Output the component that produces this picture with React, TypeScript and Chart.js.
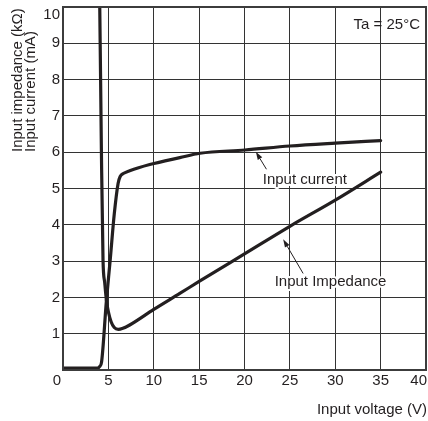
import React, { useEffect, useRef } from "react";
import { Chart, registerables } from "chart.js";

Chart.register(...registerables);

// ---- data ----
const X_TICKS = [0, 5, 10, 15, 20, 25, 30, 35, 40];
const Y_TICKS = [1, 2, 3, 4, 5, 6, 7, 8, 9, 10];

const currentX = [0, 3.8, 4.05, 4.25, 4.78, 5.2, 5.65, 6.07, 6.3, 6.7, 7.35, 9.56, 12.87, 15.1, 20.05, 25, 30, 35];
const currentY = [0.05, 0.05, 0.1, 0.22, 1.9, 3.03, 4.3, 5.14, 5.33, 5.42, 5.49, 5.66, 5.85, 5.97, 6.06, 6.17, 6.25, 6.32];

const impedanceX = [4.0, 4.05, 4.23, 4.41, 4.6, 4.78, 5.0, 5.3, 5.65, 6.1, 6.6, 7.35, 10, 12.87, 15, 20, 25, 30, 35];
const impedanceY = [10.6, 10, 6.06, 3.03, 2.4, 1.93, 1.6, 1.33, 1.17, 1.12, 1.15, 1.24, 1.67, 2.11, 2.44, 3.2, 3.96, 4.68, 5.45];

const annotationTexts = ["Input current", "Input Impedance"];
const annotationLabelX = [26.65, 29.48];
const annotationLabelY = [5.25, 2.43];
const arrowTailX = [22.42, 26.46];
const arrowTailY = [5.53, 2.66];
const arrowTipX = [21.25, 24.26];
const arrowTipY = [6.01, 3.6];

const noteText = "Ta = 25°C";
const xTitle = "Input voltage (V)";
const yTitleLines = ["Input impedance (kΩ)", "Input current (mA)"];

// ---- styles ----
const INK = "#231f20";
const GRID = "#333333";
const FRAME = "#3c3c3c";
const FONT = '15px "Liberation Sans", Arial, sans-serif';

const textPlugin = {
  id: "texts",
  afterDraw(chart: any) {
    const { ctx, chartArea: a } = chart;
    const x = chart.scales.x;
    const y = chart.scales.y;
    ctx.save();

    // frame
    ctx.strokeStyle = FRAME;
    ctx.lineWidth = 2;
    ctx.strokeRect(a.left, a.top, a.right - a.left, a.bottom - a.top);

    ctx.fillStyle = INK;
    ctx.font = FONT;

    // y tick labels
    ctx.textAlign = "right";
    ctx.textBaseline = "middle";
    Y_TICKS.forEach((v) => {
      const py = Math.max(y.getPixelForValue(v), a.top + 8);
      ctx.fillText(String(v), a.left - 3, py);
    });

    // x tick labels
    X_TICKS.forEach((v, i) => {
      const px = x.getPixelForValue(v);
      const py = a.bottom + 11;
      if (i === 0) {
        ctx.textAlign = "right";
        ctx.fillText(String(v), px - 2, py);
      } else if (i === X_TICKS.length - 1) {
        ctx.textAlign = "right";
        ctx.fillText(String(v), px + 1, py);
      } else {
        ctx.textAlign = "center";
        ctx.fillText(String(v), px, py);
      }
    });

    // x title
    ctx.textAlign = "right";
    ctx.fillText(xTitle, a.right + 1, a.bottom + 40);

    // y title (two rotated lines)
    const yTitleCenters = [17.5, 31];
    yTitleLines.forEach((t, i) => {
      ctx.save();
      ctx.translate(yTitleCenters[i], 152);
      ctx.rotate(-Math.PI / 2);
      ctx.textAlign = "left";
      ctx.textBaseline = "middle";
      ctx.fillText(t, 0, 0);
      ctx.restore();
    });

    // note
    ctx.textAlign = "right";
    ctx.textBaseline = "middle";
    ctx.fillText(noteText, a.right - 6, a.top + 18);

    // annotations with arrows
    annotationTexts.forEach((t, i) => {
      const lx = x.getPixelForValue(annotationLabelX[i]);
      const ly = y.getPixelForValue(annotationLabelY[i]);
      ctx.textAlign = "center";
      ctx.textBaseline = "middle";
      ctx.strokeStyle = "#ffffff";
      ctx.lineWidth = 4;
      ctx.lineJoin = "round";
      ctx.strokeText(t, lx, ly);
      ctx.fillStyle = INK;
      ctx.fillText(t, lx, ly);

      const tx = x.getPixelForValue(arrowTailX[i]);
      const ty = y.getPixelForValue(arrowTailY[i]);
      const hx = x.getPixelForValue(arrowTipX[i]);
      const hy = y.getPixelForValue(arrowTipY[i]);
      const ang = Math.atan2(hy - ty, hx - tx);
      const len = 8;
      const hw = 2.6;
      const bx = hx - len * Math.cos(ang);
      const by = hy - len * Math.sin(ang);
      ctx.strokeStyle = INK;
      ctx.lineWidth = 1;
      ctx.beginPath();
      ctx.moveTo(tx, ty);
      ctx.lineTo(bx, by);
      ctx.stroke();
      ctx.beginPath();
      ctx.moveTo(hx, hy);
      ctx.lineTo(bx + hw * Math.sin(ang), by - hw * Math.cos(ang));
      ctx.lineTo(bx - hw * Math.sin(ang), by + hw * Math.cos(ang));
      ctx.closePath();
      ctx.fill();
    });

    ctx.restore();
  },
};

export default function App() {
  const ref = useRef<HTMLCanvasElement | null>(null);

  useEffect(() => {
    if (!ref.current) return;
    const mk = (xs: number[], ys: number[]) => xs.map((v, i) => ({ x: v, y: ys[i] }));
    const chart = new Chart(ref.current, {
      type: "line",
      data: {
        datasets: [
          {
            label: "Input current",
            data: mk(currentX, currentY),
            borderColor: INK,
            borderWidth: 3.2,
            pointRadius: 0,
            fill: false,
            cubicInterpolationMode: "monotone",
            borderCapStyle: "round",
            borderJoinStyle: "round",
            clip: 0,
          },
          {
            label: "Input Impedance",
            data: mk(impedanceX, impedanceY),
            borderColor: INK,
            borderWidth: 3.2,
            pointRadius: 0,
            fill: false,
            cubicInterpolationMode: "monotone",
            borderCapStyle: "round",
            borderJoinStyle: "round",
            clip: 0,
          },
        ],
      },
      options: {
        animation: false,
        responsive: false,
        maintainAspectRatio: false,
        layout: { padding: { top: 7, right: 2, left: 0, bottom: 0 } },
        plugins: { legend: { display: false }, tooltip: { enabled: false } },
        scales: {
          x: {
            type: "linear",
            min: 0,
            max: 40,
            ticks: { stepSize: 5, display: false },
            grid: { color: GRID, lineWidth: 1, drawTicks: false },
            border: { display: false },
            afterFit: (s: any) => {
              s.height = 51;
            },
          },
          y: {
            type: "linear",
            min: 0,
            max: 10,
            ticks: { stepSize: 1, display: false },
            grid: { color: GRID, lineWidth: 1, drawTicks: false },
            border: { display: false },
            afterFit: (s: any) => {
              s.width = 63;
            },
          },
        },
      } as any,
      plugins: [textPlugin],
    });
    return () => chart.destroy();
  }, []);

  return (
    <div style={{ position: "fixed", left: 0, top: 0, width: 428, height: 421, background: "#fff" }}>
      <canvas ref={ref} width={428} height={421} style={{ display: "block", width: 428, height: 421 }} />
    </div>
  );
}
